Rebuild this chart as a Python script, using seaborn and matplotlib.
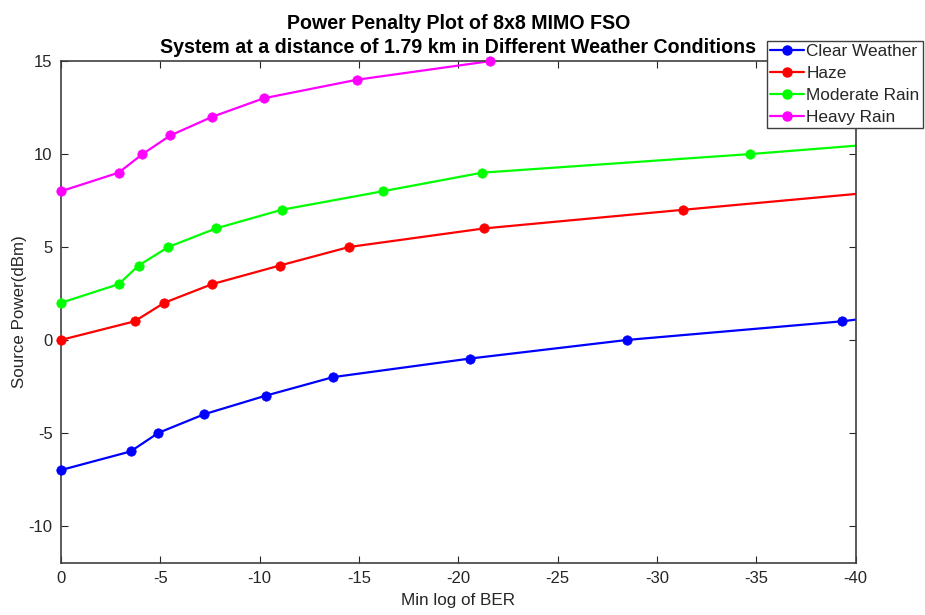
import matplotlib
matplotlib.use("Agg")
import matplotlib.pyplot as plt
from matplotlib.lines import Line2D
import seaborn as sns
import pandas as pd

# Data (x = min log of BER, y = source power dBm)
clear_x = [0, -3.5, -4.9, -7.2, -10.3, -13.7, -20.6, -28.5, -39.3, -47]
clear_y = [-7, -6, -5, -4, -3, -2, -1, 0, 1, 2]
haze_x = [0, -3.7, -5.2, -7.6, -11.0, -14.5, -21.3, -31.3, -41.5]
haze_y = [0, 1, 2, 3, 4, 5, 6, 7, 8]
mod_x = [0, -2.9, -3.9, -5.4, -7.8, -11.1, -16.2, -21.2, -34.7, -46.5]
mod_y = [2, 3, 4, 5, 6, 7, 8, 9, 10, 11]
heavy_x = [0, -2.9, -4.1, -5.5, -7.6, -10.2, -14.9, -21.6, -30]
heavy_y = [8, 9, 10, 11, 12, 13, 14, 15, 16]

series_names = ["Clear Weather", "Haze", "Moderate Rain", "Heavy Rain"]
series_colors = ["#0000ff", "#ff0000", "#00ff00", "#ff00ff"]
series_x = [clear_x, haze_x, mod_x, heavy_x]
series_y = [clear_y, haze_y, mod_y, heavy_y]

title_text = "Power Penalty Plot of 8x8 MIMO FSO\nSystem at a distance of 1.79 km in Different Weather Conditions"
xlabel_text = "Min log of BER"
ylabel_text = "Source Power(dBm)"
xticks = [0, -5, -10, -15, -20, -25, -30, -35, -40]
yticks = [-10, -5, 0, 5, 10, 15]
xlim = (0, -40)
ylim = (-12, 15)

sns.set_style("ticks")
plt.rcParams['font.family'] = ['Liberation Sans', 'DejaVu Sans']

fig = plt.figure(figsize=(9.25, 6.15), dpi=100)
ax = fig.add_axes([0.066, 0.0846, 0.859, 0.816])

handles = []
for name, col, xs, ys in zip(series_names, series_colors, series_x, series_y):
    df = pd.DataFrame({"x": xs, "y": ys})
    sns.lineplot(data=df, x="x", y="y", sort=False, ax=ax, color=col,
                 linewidth=1.6, legend=False)
    inside = df[(df.x <= xlim[0]) & (df.x >= xlim[1]) &
                (df.y >= ylim[0]) & (df.y <= ylim[1])]
    sns.scatterplot(data=inside, x="x", y="y", ax=ax, color=col, s=46,
                    edgecolor=col, linewidth=0.5, clip_on=False, zorder=3,
                    legend=False)
    handles.append(Line2D([0], [0], color=col, linewidth=1.6, marker="o",
                          markersize=6.5, markeredgecolor=col, label=name))

ax.set_xlim(*xlim)
ax.set_ylim(*ylim)
ax.set_xticks(xticks)
ax.set_yticks(yticks)
ax.set_xticklabels([f"{t}" for t in xticks])
ax.set_yticklabels([f"{t}" for t in yticks])
ax.tick_params(direction="in", top=True, right=True, length=5, width=0.8,
               labelsize=12, colors="#262626", pad=6)
for sp in ax.spines.values():
    sp.set_visible(True)
    sp.set_color("#404040")
    sp.set_linewidth(1.2)

ax.set_xlabel(xlabel_text, fontsize=12.3, color="#262626", labelpad=5)
ax.set_ylabel(ylabel_text, fontsize=12.2, color="#262626", labelpad=1)
ax.set_title(title_text, fontsize=14.15, fontweight="bold", color="black", pad=6,
             x=0.5, linespacing=1.35)

leg = ax.legend(handles=handles, loc="upper right", bbox_to_anchor=(0.998, 0.934),
                bbox_transform=fig.transFigure, fontsize=12.4, frameon=True,
                fancybox=False, edgecolor="#404040", borderpad=0.2,
                labelspacing=0.4, handlelength=1.95, handletextpad=0.15,
                borderaxespad=0)
leg.get_frame().set_linewidth(1.0)
leg.get_frame().set_alpha(1)
leg.set_zorder(10)

fig.savefig("out.png", dpi=100, facecolor="white")
